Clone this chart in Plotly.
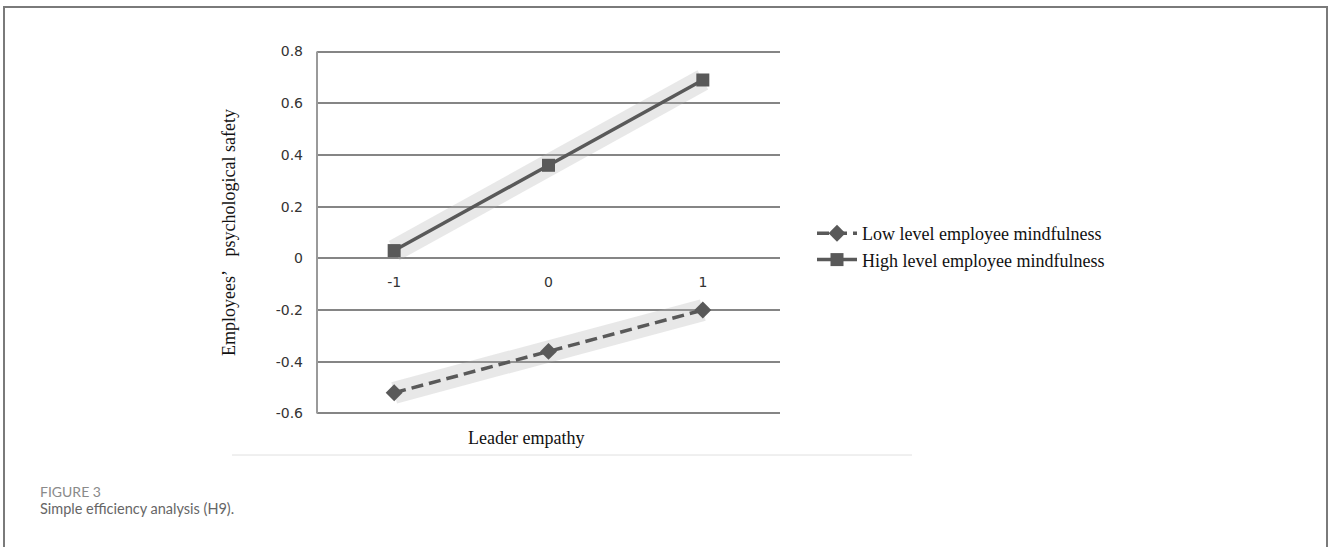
import plotly.graph_objects as go

# ---- data ----
categories = ["-1", "0", "1"]
low_mindfulness = [-0.52, -0.36, -0.20]
high_mindfulness = [0.03, 0.36, 0.69]
y_ticks = [0.8, 0.6, 0.4, 0.2, 0, -0.2, -0.4, -0.6]
y_tick_labels = ["0.8", "0.6", "0.4", "0.2", "0", "-0.2", "-0.4", "-0.6"]
y_min, y_max = -0.6, 0.8
pad = 0.006  # keep the edge gridlines visible

W, H = 1328, 547
L, R, T, B = 317, 548, 50, 132
PW, PH = W - L - R, H - T - B


def px(x):
    return (x - L) / PW


def py(y):
    return (H - B - y) / PH


line_col = "#595959"
halo = "rgba(180,180,180,0.30)"

fig = go.Figure()

# soft halos (scan blur look)
for vals in (low_mindfulness, high_mindfulness):
    fig.add_trace(go.Scatter(x=categories, y=vals, mode="lines",
                             line=dict(color=halo, width=22),
                             showlegend=False, hoverinfo="skip"))

fig.add_trace(go.Scatter(
    x=categories, y=low_mindfulness, mode="lines+markers",
    name="Low level employee mindfulness",
    line=dict(color=line_col, width=3.5, dash="12px,6px"),
    marker=dict(symbol="diamond", size=13, color=line_col)))
fig.add_trace(go.Scatter(
    x=categories, y=high_mindfulness, mode="lines+markers",
    name="High level employee mindfulness",
    line=dict(color=line_col, width=3.5),
    marker=dict(symbol="square", size=13, color=line_col)))

lo, hi = y_min - pad, y_max + pad
zero_pos = (0 - lo) / (hi - lo)

fig.update_layout(
    width=W, height=H,
    margin=dict(l=L, r=R, t=T, b=B, autoexpand=False),
    paper_bgcolor="white", plot_bgcolor="white",
    showlegend=True,
    legend=dict(x=px(812), y=py(215), xanchor="left", yanchor="top",
                font=dict(family="Liberation Serif", size=18, color="#111"),
                bgcolor="rgba(0,0,0,0)", itemwidth=40),
    xaxis=dict(type="category", categoryorder="array", categoryarray=categories,
               range=[-0.5, 2.5], anchor="free", position=zero_pos,
               showgrid=False, zeroline=False, showline=False,
               ticks="", ticklabelstandoff=14,
               tickfont=dict(family="DejaVu Sans", size=14, color="#333")),
    yaxis=dict(range=[lo, hi], tickvals=y_ticks, ticktext=y_tick_labels,
               showgrid=True, gridcolor="#858585", gridwidth=2,
               zeroline=False, showline=False,
               ticks="", ticklabelstandoff=13,
               tickfont=dict(family="DejaVu Sans", size=14, color="#333"),
               title=dict(text="Employees’\u00a0\u00a0\u00a0psychological safety",
                          font=dict(family="Liberation Serif", size=18, color="#111"),
                          standoff=35)),
)

# y axis line spanning the gridded range
fig.add_shape(type="line", xref="paper", yref="y", x0=0, x1=0,
              y0=y_min, y1=y_max, line=dict(color="#9a9a9a", width=2))

# x-axis title
fig.add_annotation(x=px(526), y=py(450), xref="paper", yref="paper",
                   text="Leader empathy", showarrow=False,
                   font=dict(family="Liberation Serif", size=18, color="#111"))

# faint baseline of original scan
fig.add_shape(type="line", xref="paper", yref="paper",
              x0=px(232), x1=px(912), y0=py(455), y1=py(455),
              line=dict(color="#e0e0e0", width=1))

# outer frame
fig.add_shape(type="rect", xref="paper", yref="paper",
              x0=px(4), x1=px(1327), y0=py(7), y1=py(600),
              line=dict(color="#7a7a7a", width=2))

# caption
fig.add_annotation(x=px(38), y=py(491), xref="paper", yref="paper",
                   xanchor="left", yanchor="middle", showarrow=False,
                   text="FIGURE 3",
                   font=dict(family="Lato", size=14, color="#8a8a8a"))
fig.add_annotation(x=px(38), y=py(508), xref="paper", yref="paper",
                   xanchor="left", yanchor="middle", showarrow=False,
                   text="Simple efficiency analysis (H9).",
                   font=dict(family="Lato", size=14.5, color="#666"))

fig.write_html("out.html", config={"displayModeBar": False},
               post_script="document.body.style.margin='0';")
